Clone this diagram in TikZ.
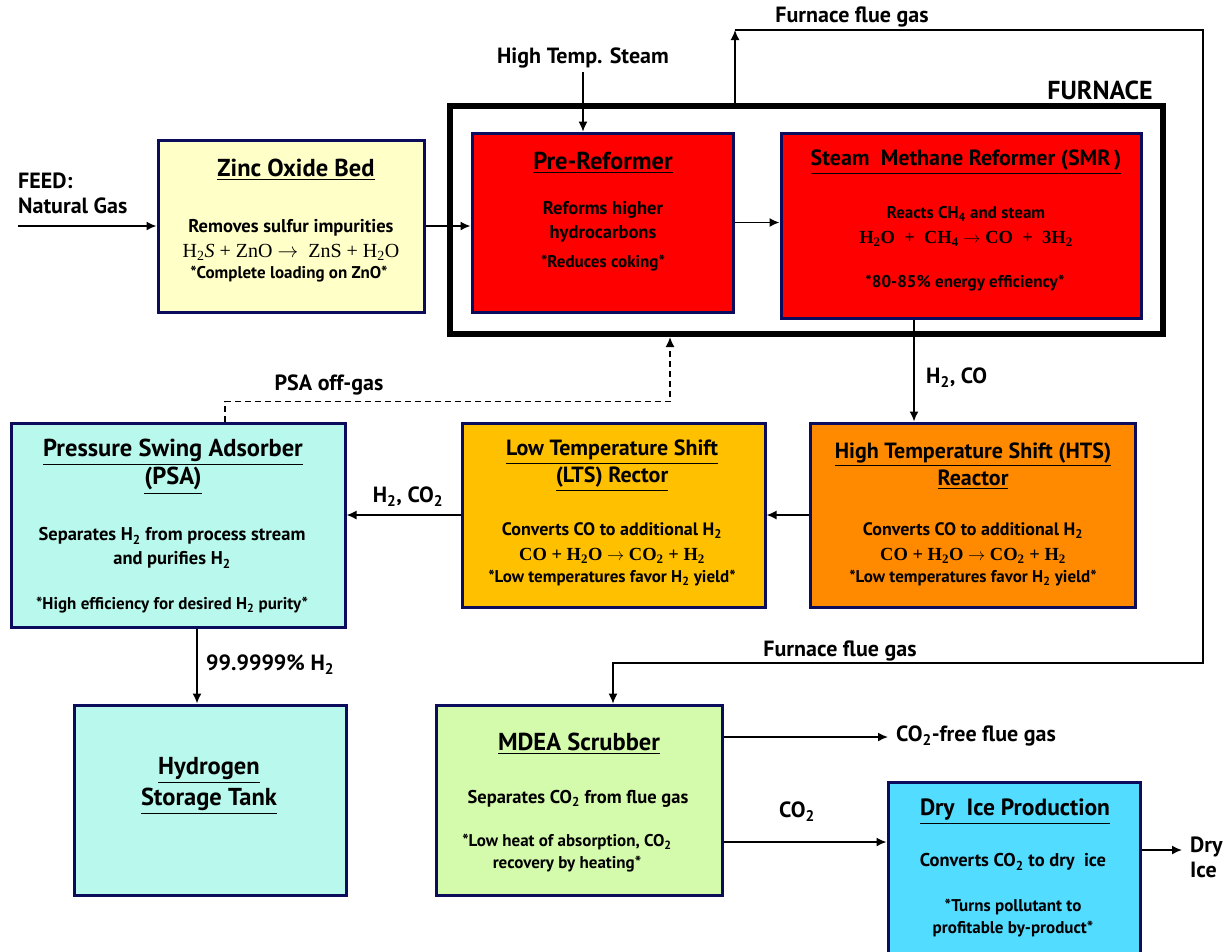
\documentclass[tikz,border=0pt]{standalone}
\usepackage{fontspec}
\setmainfont{PT Sans}
\newfontfamily\eqfont{Liberation Serif}
\usepackage{amsmath}
\usetikzlibrary{arrows.meta}
\definecolor{Navy}{RGB}{12,12,92}
\definecolor{Zinc}{RGB}{255,255,200}
\definecolor{Reformer}{RGB}{255,0,0}
\definecolor{Psa}{RGB}{185,248,236}
\definecolor{Lts}{RGB}{255,192,0}
\definecolor{Hts}{RGB}{255,138,0}
\definecolor{Mdea}{RGB}{212,250,172}
\definecolor{Dryice}{RGB}{82,220,255}

\begin{document}
\begin{tikzpicture}[x=1pt,y=-1pt,
  unitbox/.style={draw=Navy,line width=3pt,inner sep=0pt},
  flow/.style={line width=1.6pt,-{Latex[length=10pt,width=9pt]}},
  pipe/.style={line width=1.1pt},
  boxtitle/.style={font=\bfseries\fontsize{24.5}{27}\selectfont,align=center},
  shifttitle/.style={font=\bfseries\fontsize{22}{27}\selectfont,align=center},
  txt/.style={font=\bfseries\fontsize{18.5}{24}\selectfont,align=center,inner sep=1pt},
  eqbig/.style={font=\eqfont\bfseries\fontsize{18.5}{23}\selectfont,align=center,inner sep=1pt},
  note/.style={font=\bfseries\fontsize{17}{21.5}\selectfont,align=center,inner sep=1pt},
  lbl/.style={font=\bfseries\fontsize{22}{25}\selectfont,inner sep=0pt}]
\useasboundingbox (0,0) rectangle (1225,951);
%\node {\includegraphics{h2plant.png}};
\node[draw,line width=6pt,minimum width=713,minimum height=228,inner sep=0pt] (furnace) at (806.5,220) {};
\node[unitbox,fill=Zinc,minimum width=266,minimum height=172] (zno) at (291,226) {};
\node[unitbox,fill=Reformer,minimum width=261,minimum height=179] (pre) at (602.5,222.5) {};
\node[unitbox,fill=Reformer,minimum width=360,minimum height=185] (smr) at (961,226) {};
\node[unitbox,fill=Psa,minimum width=334,minimum height=204] (psa) at (178,525) {};
\node[unitbox,fill=Lts,minimum width=303,minimum height=184] (lts) at (613.5,515) {};
\node[unitbox,fill=Hts,minimum width=325,minimum height=184] (hts) at (972.5,515) {};
\node[unitbox,fill=Psa,minimum width=272,minimum height=190] (tank) at (210,800) {};
\node[unitbox,fill=Mdea,minimum width=286,minimum height=190] (mdea) at (579,800) {};
\node[unitbox,fill=Dryice,minimum width=252,minimum height=178] (dryice) at (1014,871) {};

\node[boxtitle] (znotitle) at (296,170) {\underline{Zinc Oxide Bed}};
\node[txt] (znotext) at (291,228) {Removes sulfur impurities};
\node[eqbig,font=\eqfont\fontsize{20}{23}\selectfont] (znoeq) at (291,252) {H\textsubscript{2}\textit{S} + ZnO $\rightarrow$ ~ZnS + H\textsubscript{2}O};
\node[note] (znonote) at (289,274) {*Complete loading on ZnO*};
\node[boxtitle] (pretitle) at (603,163) {\underline{Pre-Reformer}};
\node[txt] (pretext) at (603,222) {Reforms higher\\hydrocarbons};
\node[note] (prenote) at (603,263) {*Reduces coking*};
\node[boxtitle,font=\bfseries\fontsize{22}{27}\selectfont] (smrtitle) at (966,162) {\underline{Steam\ \ Methane Reformer (SMR\,)}};
\node[txt,font=\bfseries\fontsize{17}{24}\selectfont] (smrtext) at (966,214) {Reacts CH\textsubscript{4} and steam};
\node[eqbig] (smreq) at (966,239) {H\textsubscript{2}O ~+ ~CH\textsubscript{4} $\rightarrow$ CO ~+ ~3H\textsubscript{2}};
\node[note] (smrnote) at (965,283) {*80-85\% energy efficiency*};

\node[boxtitle] (psatitle) at (173,467) {\underline{Pressure Swing Adsorber}\\\underline{(PSA)}};
\node[txt] (psatext) at (172,548) {Separates H\textsubscript{2} from process stream\\and purifies H\textsubscript{2}};
\node[note] (psanote) at (172,605) {*High efficiency for desired H\textsubscript{2} purity*};
\node[shifttitle] (ltstitle) at (612,466) {\underline{Low Temperature Shift}\\\underline{(LTS) Rector}};
\node[txt,font=\bfseries\fontsize{18}{24}\selectfont] (ltstext) at (612,531) {Converts CO to additional H\textsubscript{2}};
\node[eqbig] (ltseq) at (612,556) {CO + H\textsubscript{2}O $\rightarrow$ CO\textsubscript{2} + H\textsubscript{2}};
\node[note] (ltsnote) at (612,578) {*Low temperatures favor H\textsubscript{2} yield*};
\node[shifttitle] (htstitle) at (973,466) {\underline{High Temperature Shift (HTS)}\\\underline{Reactor}};
\node[txt,font=\bfseries\fontsize{18}{24}\selectfont] (htstext) at (973,531) {Converts CO to additional H\textsubscript{2}};
\node[eqbig] (htseq) at (973,556) {CO + H\textsubscript{2}O $\rightarrow$ CO\textsubscript{2} + H\textsubscript{2}};
\node[note] (htsnote) at (973,578) {*Low temperatures favor H\textsubscript{2} yield*};
\node[boxtitle,font=\bfseries\fontsize{24.5}{31}\selectfont] (tanktitle) at (209,786) {\underline{Hydrogen}\\\underline{Storage Tank}};
\node[boxtitle] (mdeatitle) at (579,744) {\underline{MDEA Scrubber}};
\node[txt] (mdeatext) at (578,799) {Separates CO\textsubscript{2} from flue gas};
\node[note] (mdeanote) at (567,853) {*Low heat of absorption, CO\textsubscript{2}\\recovery by heating*};
\node[boxtitle,font=\bfseries\fontsize{23.5}{27}\selectfont] (drytitle) at (1015,812) {\underline{Dry\ \ Ice Production}};
\node[txt] (drytext) at (1013,862) {Converts CO\textsubscript{2} to dry\ \ ice};
\node[note] (drynote) at (1013,918) {*Turns pollutant to\\profitable by-product*};

\node[lbl,align=left,anchor=west] (feed) at (18,193) {FEED:\\Natural Gas};
\node[lbl] (steam) at (583,58) {High Temp. Steam};
\node[lbl,font=\bfseries\fontsize{26}{25}\selectfont] (furnlbl) at (1100,90) {FURNACE};
\node[lbl] (fluetop) at (852,17) {Furnace flue gas};
\node[lbl] (fluelow) at (840,651) {Furnace flue gas};
\node[lbl,anchor=west] (h2co) at (926,378) {H\textsubscript{2}, CO};
\node[lbl] (h2co2) at (408,497) {H\textsubscript{2}, CO\textsubscript{2}};
\node[lbl] (offgas) at (329,385) {PSA off-gas};
\node[lbl,anchor=west] (purity) at (206,665) {99.9999\% H\textsubscript{2}};
\node[lbl,anchor=west] (cofree) at (896,736) {CO\textsubscript{2}-free flue gas};
\node[lbl] (co2) at (797,812) {CO\textsubscript{2}};
\node[lbl,align=left,anchor=west] (dryout) at (1190,857) {Dry\\Ice};

\coordinate (feedin) at (18,226);
\coordinate (steamin) at (583,72);
\coordinate (flueup) at (735,30);
\coordinate (fluedown) at (1203,663);
\coordinate (freeout) at (888,737);
\coordinate (iceout) at (1182,850);

\draw[flow] (feedin) -- (zno.west);
\draw[flow] (zno.east) -- (zno.east -| pre.west);
\draw[flow] (pre.east) -- (pre.east -| smr.west);
\draw[flow,line width=1.1pt] (steamin) -- (steamin |- pre.north);
\draw[flow] (furnace.north -| flueup) -- (flueup);
\draw[pipe,-{Latex[length=10pt,width=9pt]}] (flueup) -| (fluedown) -| ([xshift=34pt]mdea.north);
\draw[flow] ([xshift=-47pt]smr.south) -- ([xshift=-47pt]smr.south |- hts.north);
\draw[flow] (hts.west) -- (lts.east);
\draw[flow] (lts.west) -- (lts.west -| psa.east);
\draw[flow,dash pattern=on 6pt off 4pt] ([xshift=47pt]psa.north) -- ++(0,-20) -| ([xshift=-136.5pt]furnace.south);
\draw[flow] ([xshift=19pt]psa.south) -- ([xshift=19pt]psa.south |- tank.north);
\draw[flow] ([yshift=63pt]mdea.east) -- (freeout);
\draw[flow] ([yshift=-42pt]mdea.east) -- ([yshift=-42pt]mdea.east -| dryice.west);
\draw[flow] ([yshift=21pt]dryice.east) -- (iceout);
\end{tikzpicture}
\end{document}
